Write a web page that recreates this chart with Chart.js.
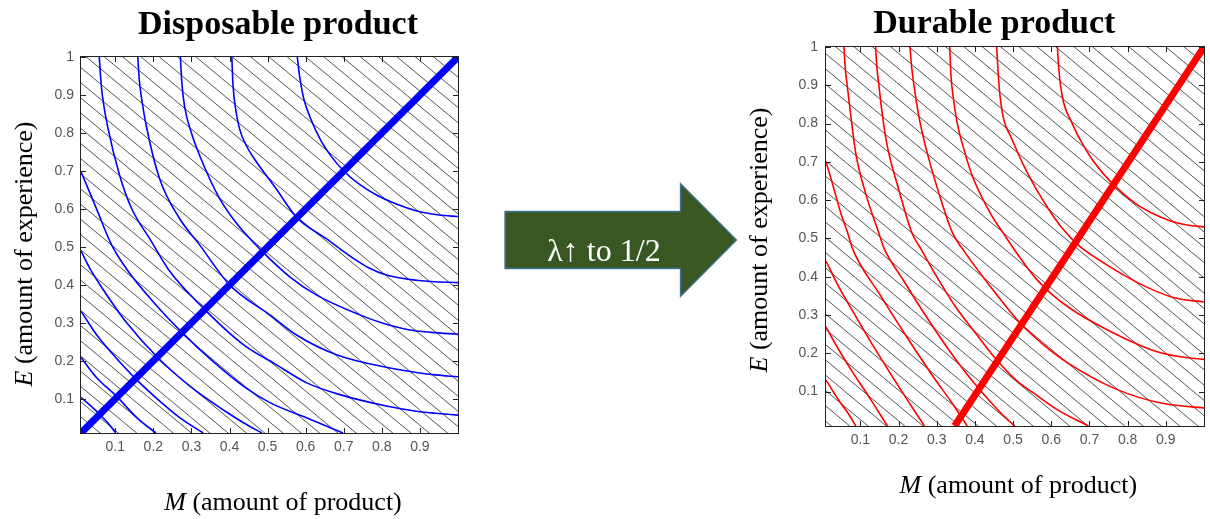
<!DOCTYPE html>
<html>
<head>
<meta charset="utf-8">
<script src="https://cdn.jsdelivr.net/npm/chart.js@4.4.1/dist/chart.umd.min.js"></script>
<style>
  html, body { margin: 0; padding: 0; background: #fff; }
  #wrap { position: relative; width: 1210px; height: 519px; overflow: hidden; }
  canvas { position: absolute; top: 0; }
  #arrow { position: absolute; left: 0; top: 0; }
</style>
</head>
<body>
<div id="wrap">
  <canvas id="disposableChart" width="500" height="519" style="left:0"></canvas>
  <canvas id="durableChart" width="470" height="519" style="left:740px"></canvas>
  <svg id="arrow" width="1210" height="519">
    <polygon points="505,211.5 680.5,211.5 680.5,183.5 736.5,240 680.5,296.5 680.5,268.5 505,268.5"
             fill="#385723" stroke="#41719c" stroke-width="1.3"/>
    <text x="604" y="260.5" fill="#ffffff" font-family="Liberation Serif" font-size="32" text-anchor="middle">λ↑ to 1/2</text>
  </svg>
</div>
<script>
// axis ticks (same for both panels)
var mTicks = [0.1, 0.2, 0.3, 0.4, 0.5, 0.6, 0.7, 0.8, 0.9];
var eTicks = [0.1, 0.2, 0.3, 0.4, 0.5, 0.6, 0.7, 0.8, 0.9, 1];

// ---- Disposable product: [M, E] points ----
// curves from the top edge to the right edge
var dispA1 = [[0.058,1.0],[0.062,0.94],[0.066,0.899],[0.081,0.812],[0.111,0.69],[0.142,0.603],[0.194,0.516],[0.24,0.44],[0.335,0.335],[0.44,0.24],[0.516,0.194],[0.603,0.142],[0.69,0.111],[0.812,0.081],[0.899,0.066],[0.94,0.062],[1.0,0.057]];
var dispA2 = [[0.159,1.0],[0.163,0.94],[0.168,0.899],[0.181,0.821],[0.216,0.681],[0.268,0.576],[0.321,0.506],[0.40,0.40],[0.506,0.321],[0.576,0.268],[0.681,0.216],[0.821,0.181],[0.899,0.168],[0.94,0.163],[1.0,0.158]];
var dispA3 = [[0.271,1.0],[0.275,0.93],[0.282,0.87],[0.299,0.803],[0.321,0.742],[0.373,0.629],[0.42,0.56],[0.487,0.487],[0.56,0.42],[0.629,0.373],[0.742,0.321],[0.803,0.299],[0.87,0.282],[0.93,0.275],[1.0,0.27]];
var dispA4 = [[0.406,1.0],[0.409,0.93],[0.415,0.87],[0.426,0.812],[0.445,0.765],[0.47,0.725],[0.521,0.655],[0.577,0.577],[0.655,0.521],[0.725,0.47],[0.765,0.445],[0.812,0.426],[0.87,0.415],[0.93,0.409],[1.0,0.406]];
var dispA5 = [[0.578,1.0],[0.584,0.95],[0.595,0.89],[0.612,0.84],[0.64,0.78],[0.668,0.737],[0.70,0.70],[0.737,0.668],[0.78,0.64],[0.84,0.612],[0.89,0.595],[0.95,0.584],[1.0,0.58]];
// curves from the left edge to the bottom edge
var dispB1 = [[0.01,0.698],[0.05,0.602],[0.09,0.506],[0.131,0.44],[0.2,0.355],[0.275,0.275],[0.355,0.2],[0.44,0.131],[0.506,0.09],[0.602,0.05],[0.698,0.01]];
var dispB2 = [[0.01,0.489],[0.035,0.44],[0.068,0.388],[0.13,0.30],[0.21,0.21],[0.30,0.13],[0.388,0.068],[0.44,0.035],[0.485,0.01]];
var dispB3 = [[0.01,0.331],[0.05,0.27],[0.1,0.21],[0.153,0.153],[0.21,0.1],[0.27,0.05],[0.331,0.01]];
var dispB4 = [[0.01,0.209],[0.05,0.157],[0.105,0.105],[0.157,0.05],[0.207,0.01]];
var dispB5 = [[0.01,0.104],[0.035,0.082],[0.059,0.059],[0.082,0.035],[0.101,0.01]];
var dispRidge = [[0.01,0.01],[1.0,1.0]];

// ---- Durable product ----
// curves from the top edge
var durT1 = [[0.057,1.0],[0.06,0.95],[0.066,0.896],[0.075,0.82],[0.088,0.722],[0.114,0.617],[0.149,0.512],[0.163,0.472],[0.21,0.395],[0.26,0.315],[0.31,0.24],[0.36,0.17],[0.41,0.108],[0.468,0.044],[0.504,0.01]];
var durT2 = [[0.140,1.0],[0.143,0.95],[0.149,0.896],[0.158,0.82],[0.171,0.739],[0.201,0.626],[0.236,0.512],[0.259,0.472],[0.30,0.40],[0.35,0.32],[0.40,0.255],[0.455,0.185],[0.51,0.128],[0.555,0.095],[0.62,0.05],[0.697,0.01]];
var durT3 = [[0.230,1.0],[0.234,0.95],[0.241,0.896],[0.253,0.82],[0.271,0.739],[0.306,0.617],[0.341,0.515],[0.368,0.472],[0.44,0.375],[0.52,0.277],[0.58,0.222],[0.643,0.175],[0.773,0.105],[0.887,0.07],[1.0,0.057]];
var durT4 = [[0.334,1.0],[0.337,0.93],[0.343,0.87],[0.354,0.80],[0.372,0.73],[0.394,0.661],[0.446,0.556],[0.472,0.517],[0.52,0.447],[0.56,0.395],[0.60,0.355],[0.65,0.317],[0.73,0.27],[0.86,0.21],[0.93,0.192],[1.0,0.184]];
var durT5 = [[0.457,1.0],[0.461,0.93],[0.466,0.87],[0.476,0.809],[0.494,0.766],[0.525,0.696],[0.56,0.63],[0.594,0.575],[0.63,0.525],[0.67,0.483],[0.72,0.447],[0.78,0.41],[0.843,0.376],[0.922,0.345],[1.0,0.334]];
var durT6 = [[0.616,1.0],[0.62,0.94],[0.629,0.87],[0.655,0.80],[0.68,0.75],[0.708,0.705],[0.76,0.643],[0.821,0.591],[0.87,0.563],[0.909,0.547],[0.955,0.535],[1.0,0.53]];
// curves from the left edge
var durL1 = [[0.01,0.13],[0.03,0.098],[0.05,0.068],[0.07,0.04],[0.088,0.01]];
var durL2 = [[0.01,0.269],[0.04,0.215],[0.08,0.15],[0.12,0.09],[0.171,0.01]];
var durL3 = [[0.01,0.441],[0.04,0.38],[0.08,0.31],[0.13,0.225],[0.18,0.145],[0.225,0.075],[0.268,0.01]];
var durL4 = [[0.01,0.70],[0.027,0.643],[0.049,0.565],[0.066,0.517],[0.08,0.472],[0.15,0.355],[0.22,0.245],[0.29,0.14],[0.34,0.07],[0.38,0.01]];
var durRidge = [[0.347,0.01],[1.0,1.0]];

var dispCurves = [dispA1, dispA2, dispA3, dispA4, dispA5, dispB1, dispB2, dispB3, dispB4, dispB5];
var durCurves = [durT1, durT2, durT3, durT4, durT5, durT6, durL1, durL2, durL3, durL4];

function toSet(points, color, width, smooth) {
    return {
        data: points.map((p) => ({ x: p[0], y: p[1] })),
        borderColor: color,
        backgroundColor: color,
        borderWidth: width,
        showLine: true,
        pointRadius: 0,
        tension: smooth ? 0.4 : 0,
        cubicInterpolationMode: smooth ? "monotone" : "default",
        fill: false,
    };
}

function serifText(ctx, parts, cx, cy, angle) {
    // parts: [text, italic?, font]
    ctx.save();
    ctx.translate(cx, cy);
    ctx.rotate(angle);
    ctx.fillStyle = "#000";
    ctx.textBaseline = "alphabetic";
    ctx.textAlign = "left";
    let total = 0;
    parts.forEach((p) => {
        ctx.font = (p[1] ? "italic " : "") + p[2];
        total += ctx.measureText(p[0]).width;
    });
    let x = -total / 2;
    parts.forEach((p) => {
        ctx.font = (p[1] ? "italic " : "") + p[2];
        ctx.fillText(p[0], x, 0);
        x += ctx.measureText(p[0]).width;
    });
    ctx.restore();
}

// hatch, box, inside tick marks and the serif labels
const decor = {
    id: "decor",
    beforeDatasetsDraw(chart, args, opts) {
        const { ctx, chartArea: a, scales: { x, y } } = chart;
        ctx.save();
        ctx.beginPath();
        ctx.rect(a.left, a.top, a.right - a.left, a.bottom - a.top);
        ctx.clip();
        ctx.strokeStyle = "rgba(0,0,0,0.85)";
        ctx.lineWidth = 0.8;
        for (let c = opts.hatchStart; c < 2.1; c += opts.hatchStep) {
            ctx.beginPath();
            ctx.moveTo(x.getPixelForValue(0), y.getPixelForValue(c));
            ctx.lineTo(x.getPixelForValue(1.1), y.getPixelForValue(c - opts.hatchSlope * 1.1));
            ctx.stroke();
        }
        ctx.restore();
    },
    afterDraw(chart, args, opts) {
        const { ctx, chartArea: a, scales: { x, y } } = chart;
        ctx.save();
        ctx.strokeStyle = "#222";
        ctx.lineWidth = 1;
        ctx.strokeRect(a.left - 0.5, a.top - 0.5, a.right - a.left + 1, a.bottom - a.top + 1);
        ctx.beginPath();
        mTicks.forEach((v) => {
            const px = Math.round(x.getPixelForValue(v)) + 0.5;
            ctx.moveTo(px, a.bottom); ctx.lineTo(px, a.bottom - 5);
            ctx.moveTo(px, a.top); ctx.lineTo(px, a.top + 5);
        });
        eTicks.forEach((v) => {
            const py = Math.round(y.getPixelForValue(v)) + 0.5;
            ctx.moveTo(a.left, py); ctx.lineTo(a.left + 5, py);
            ctx.moveTo(a.right, py); ctx.lineTo(a.right - 5, py);
        });
        ctx.stroke();
        ctx.restore();

        serifText(ctx, [[opts.title, false, "bold 34px 'Liberation Serif'"]], opts.titleX, opts.titleY, 0);
        serifText(ctx, [["M", true, "26px 'Liberation Serif'"], [" (amount of product)", false, "26px 'Liberation Serif'"]],
            opts.xTitleX, opts.xTitleY, 0);
        serifText(ctx, [["E", true, "26px 'Liberation Serif'"], [" (amount of experience)", false, "26px 'Liberation Serif'"]],
            opts.yTitleX, opts.yTitleY, -Math.PI / 2);
    },
};

function makeChart(id, curves, ridge, color, layout, yWidth, xHeight, yPad, labels) {
    const datasets = [toSet(ridge, color, 7, false)];
    curves.forEach((c) => datasets.push(toSet(c, color, 1.6, true)));
    return new Chart(document.getElementById(id), {
        type: "scatter",
        data: { datasets: datasets },
        plugins: [decor],
        options: {
            responsive: false,
            animation: false,
            layout: { padding: layout },
            scales: {
                x: {
                    type: "linear",
                    min: 0.01,
                    max: 1,
                    afterBuildTicks: (s) => { s.ticks = mTicks.map((v) => ({ value: v })); },
                    afterFit: (s) => { s.height = xHeight; },
                    grid: { display: false, drawTicks: false },
                    border: { display: false },
                    ticks: {
                        padding: 6,
                        color: "#555",
                        font: { family: "'Liberation Sans'", size: 14 },
                        callback: (v) => String(v),
                    },
                },
                y: {
                    type: "linear",
                    min: 0.01,
                    max: 1,
                    afterBuildTicks: (s) => { s.ticks = eTicks.map((v) => ({ value: v })); },
                    afterFit: (s) => { s.width = yWidth; },
                    grid: { display: false, drawTicks: false },
                    border: { display: false },
                    ticks: {
                        padding: yPad,
                        color: "#555",
                        font: { family: "'Liberation Sans'", size: 14 },
                        callback: (v) => String(v),
                    },
                },
            },
            plugins: {
                legend: { display: false },
                tooltip: { enabled: false },
                decor: labels,
            },
        },
    });
}

makeChart("disposableChart", dispCurves, dispRidge, "#0000ff",
    { left: 0, right: 42, top: 57, bottom: 0 }, 81, 86, 7,
    {
        title: "Disposable product", titleX: 278, titleY: 33.5,
        xTitleX: 283, xTitleY: 510, yTitleX: 31.5, yTitleY: 254,
        hatchStart: 0.02, hatchStep: 0.04, hatchSlope: 0.833,
    });

makeChart("durableChart", durCurves, durRidge, "#ff0000",
    { left: 0, right: 6, top: 47, bottom: 0 }, 86, 93, 8,
    {
        title: "Durable product", titleX: 254.3, titleY: 33.3,
        xTitleX: 278.3, xTitleY: 493.3, yTitleX: 27, yTitleY: 240,
        hatchStart: 0.03, hatchStep: 0.04, hatchSlope: 0.833,
    });
</script>
</body>
</html>
